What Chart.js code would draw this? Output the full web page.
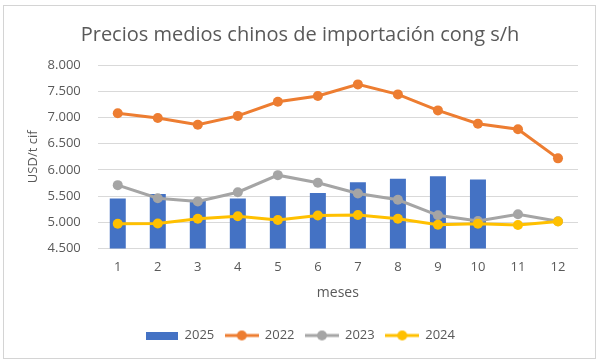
<!DOCTYPE html>
<html>
<head>
<meta charset="utf-8">
<script src="https://cdn.jsdelivr.net/npm/chart.js@4"></script>
<style>
  html, body { margin: 0; padding: 0; background: #fff; }
  #wrap { position: relative; width: 600px; height: 363px; }
</style>
</head>
<body>
<div id="wrap"><canvas id="chart" width="600" height="363"></canvas></div>
<script>
// Data
const months = ['1', '2', '3', '4', '5', '6', '7', '8', '9', '10', '11', '12'];
const y2025 = [5455, 5540, 5430, 5455, 5500, 5560, 5765, 5830, 5880, 5815];
const y2022 = [7080, 6990, 6860, 7030, 7300, 7410, 7630, 7440, 7135, 6880, 6775, 6220];
const y2023 = [5710, 5460, 5400, 5575, 5900, 5755, 5550, 5430, 5135, 5025, 5155, 5020];
const y2024 = [4975, 4980, 5070, 5115, 5045, 5130, 5140, 5070, 4955, 4975, 4950, 5015];

const txt = '#595959';
const fontFam = '"Open Sans", "Liberation Sans", sans-serif';

// legend swatches: bar box and line-with-dot
function barSwatch(color) {
    const c = document.createElement('canvas');
    c.width = 32; c.height = 8;
    const g = c.getContext('2d');
    g.fillStyle = color;
    g.fillRect(0, 0, 32, 8);
    return c;
}
function lineSwatch(color) {
    const c = document.createElement('canvas');
    c.width = 34; c.height = 12;
    const g = c.getContext('2d');
    g.strokeStyle = color;
    g.lineWidth = 3;
    g.beginPath(); g.moveTo(0, 6); g.lineTo(34, 6); g.stroke();
    g.fillStyle = color;
    g.beginPath(); g.arc(17, 6, 5, 0, Math.PI * 2); g.fill();
    return c;
}

const frame = {
    id: 'frame',
    beforeDraw(chart) {
        const ctx = chart.ctx;
        ctx.save();
        ctx.fillStyle = '#fff';
        ctx.fillRect(0, 0, chart.width, chart.height);
        ctx.strokeStyle = '#d4d4d4';
        ctx.lineWidth = 1;
        ctx.strokeRect(3.5, 5.5, 592, 353);
        ctx.restore();
    }
};

const lineDs = (label, data, color, order) => ({
    type: 'line',
    label: label,
    data: data,
    borderColor: color,
    backgroundColor: color,
    borderWidth: 3,
    pointRadius: 5,
    pointHoverRadius: 5,
    pointBackgroundColor: color,
    pointBorderWidth: 0,
    tension: 0,
    order: order
});

const chart = new Chart(document.getElementById('chart'), {
    type: 'bar',
    data: {
        labels: months,
        datasets: [
            {
                label: '2025',
                data: y2025,
                backgroundColor: '#4472C4',
                borderWidth: 0,
                barPercentage: 0.8,
                categoryPercentage: 0.5,
                order: 4
            },
            lineDs('2022', y2022, '#ED7D31', 3),
            lineDs('2023', y2023, '#A5A5A5', 2),
            lineDs('2024', y2024, '#FFC000', 1)
        ]
    },
    options: {
        responsive: false,
        animation: false,
        layout: { padding: { top: 23, left: 22, right: 22, bottom: 11 } },
        scales: {
            x: {
                grid: { display: false },
                border: { display: false },
                ticks: { color: txt, font: { family: fontFam, size: 13 }, padding: 3 },
                title: { display: true, text: 'meses', color: txt, font: { family: fontFam, size: 14 }, padding: { top: 6, bottom: 17 } }
            },
            y: {
                min: 4500,
                max: 8000,
                ticks: {
                    stepSize: 500,
                    color: txt,
                    padding: 17,
                    font: { family: fontFam, size: 13 },
                    callback: v => v.toLocaleString('de-DE', { minimumFractionDigits: 0 }).replace(/^(\d)(\d{3})$/, '$1.$2')
                },
                grid: { color: '#d9d9d9', drawTicks: false },
                border: { display: false },
                title: { display: true, text: 'USD/t cif', color: txt, font: { family: fontFam, size: 13 }, padding: { top: 3, bottom: -10 } }
            }
        },
        plugins: {
            title: {
                display: true,
                text: 'Precios medios chinos de importación cong s/h',
                color: txt,
                font: { family: fontFam, size: 20, weight: 'normal' },
                padding: { top: 0, bottom: 18 }
            },
            legend: {
                position: 'bottom',
                labels: {
                    usePointStyle: true,
                    pointStyleWidth: 33,
                    padding: 11,
                    color: txt,
                    font: { family: fontFam, size: 13 },
                    generateLabels(ch) {
                        return ch.data.datasets.map((ds, i) => ({
                            text: ds.label,
                            fontColor: txt,
                            pointStyle: i === 0 ? barSwatch(ds.backgroundColor) : lineSwatch(ds.borderColor),
                            datasetIndex: i,
                            hidden: false,
                            lineWidth: 0
                        }));
                    }
                }
            },
            tooltip: { enabled: false }
        }
    },
    plugins: [frame]
});
</script>
</body>
</html>
